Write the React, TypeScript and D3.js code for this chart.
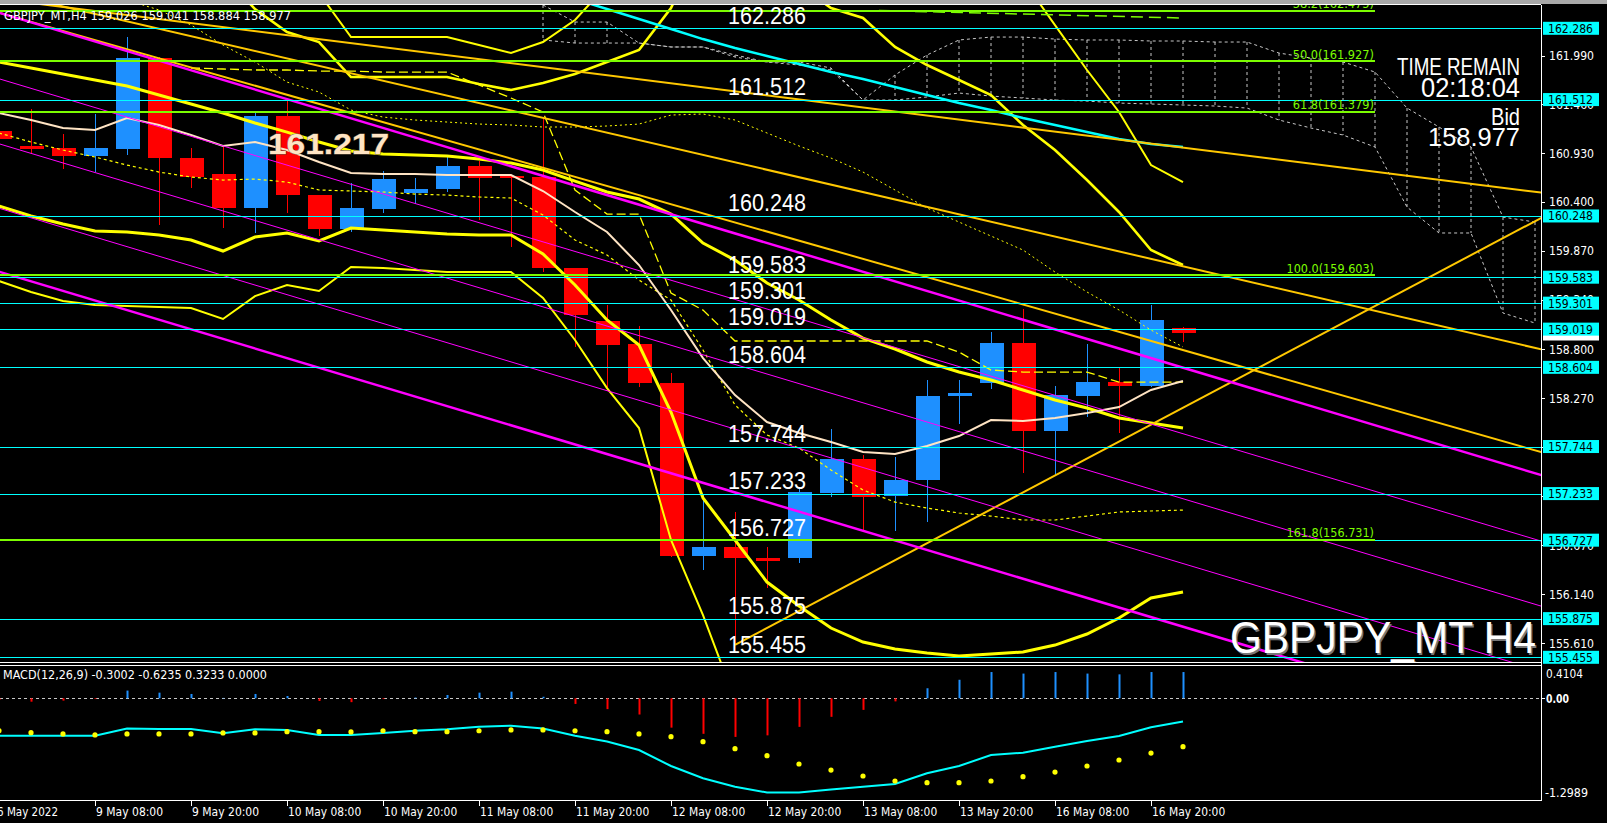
import React, { useEffect } from "react";
import * as d3 from "d3";

// ---------------- candles: H4 bars, index 0 = 6 May 20:00 ... 37 = 17 May 00:00 ----------------
const opens = [161.171,161.011,160.989,160.902,160.978,161.960,160.877,160.707,160.338,161.334,160.476,160.106,160.324,160.497,160.541,160.794,160.681,160.671,159.678,159.104,158.860,158.437,156.555,156.658,156.537,156.530,157.243,157.609,157.207,157.380,158.296,158.437,158.872,157.916,158.296,158.445,158.405,159.026];
const highs = [161.200,161.410,161.138,161.352,162.188,161.975,160.986,161.000,161.363,161.507,160.480,160.603,160.736,160.664,160.885,160.848,160.690,161.312,159.680,159.279,159.051,158.544,157.222,157.032,156.653,157.305,157.934,157.652,157.634,158.467,158.467,158.985,159.238,158.401,158.858,158.593,159.281,159.041];
const lows = [161.050,160.929,160.761,160.729,160.910,160.150,160.555,160.120,160.066,160.284,160.034,160.077,160.277,160.375,160.511,160.204,159.915,159.640,158.829,158.346,158.392,156.540,156.403,155.589,156.204,156.482,157.199,156.837,156.830,156.928,157.989,158.369,157.460,157.427,158.068,157.894,158.387,158.884];
const closes = [161.081,160.978,160.902,160.986,161.960,160.881,160.674,160.338,161.334,160.476,160.106,160.334,160.649,160.541,160.794,160.664,160.658,159.678,159.176,158.852,158.437,156.555,156.658,156.537,156.499,157.250,157.609,157.196,157.380,158.293,158.322,158.872,157.916,158.304,158.445,158.405,159.118,158.977];

// ---------------- indicators (price units, per bar) ----------------
const maBisque = [161.366,161.290,161.203,161.181,161.312,161.236,161.127,161.008,161.051,160.964,160.834,160.714,160.703,160.703,160.693,160.693,160.693,160.519,160.291,160.074,159.715,159.227,158.705,158.303,158.010,157.891,157.793,157.684,157.663,157.749,157.858,158.032,158.021,158.054,158.108,158.173,158.358,158.455];
const bandMid = [161.920,161.855,161.789,161.724,161.659,161.561,161.464,161.366,161.257,161.159,161.051,160.953,160.921,160.910,160.899,160.866,160.823,160.747,160.627,160.508,160.432,160.269,159.954,159.769,159.520,159.335,159.118,158.922,158.803,158.662,158.553,158.466,158.358,158.249,158.162,158.054,157.999,157.945];
const bandUpperInner = [163.484,163.462,163.418,163.364,163.245,163.082,162.941,162.865,162.495,162.245,162.137,161.757,161.757,161.757,161.757,161.681,161.616,161.692,161.789,161.920,162.050,162.506,163.245,163.462,163.245,162.756,162.506,162.398,162.083,161.887,161.724,161.561,161.236,160.964,160.638,160.291,159.878,159.715];
const bandLowerInner = [160.356,160.247,160.160,160.084,160.073,160.041,159.987,159.867,160.019,160.063,159.976,160.117,160.095,160.073,160.052,160.041,160.041,159.835,159.498,159.118,158.846,158.119,157.185,156.729,156.272,156.012,155.773,155.621,155.545,155.501,155.469,155.491,155.512,155.588,155.708,155.882,156.099,156.164];
const bandUpperOuter = [164.298,164.287,164.255,164.168,164.048,163.864,163.679,163.603,163.136,162.821,162.669,162.191,162.191,162.191,162.191,162.104,162.017,162.137,162.376,162.756,163.027,163.679,164.005,164.222,164.222,164.113,164.005,163.788,163.679,163.570,163.462,163.245,162.810,162.321,161.833,161.377,160.801,160.616];
const bandLowerOuter = [159.541,159.422,159.324,159.281,159.270,159.259,159.248,159.129,159.378,159.498,159.433,159.693,159.683,159.661,159.639,159.639,159.639,159.357,158.901,158.379,157.945,156.729,155.914,154.991,154.557,154.339,154.122,154.014,153.905,153.796,153.688,153.688,153.688,153.796,154.014,154.339,154.774,154.991];
const envUpper = [163.027,162.919,162.810,162.702,162.593,162.485,162.322,162.104,161.920,161.702,161.594,161.398,161.322,161.290,161.268,161.246,161.236,161.214,161.214,161.225,161.246,161.344,161.355,161.290,161.149,161.008,160.877,160.725,160.530,160.334,160.182,160.030,159.878,159.639,159.422,159.227,159.009,158.825];
const envLower = [161.149,161.051,160.964,160.888,160.801,160.725,160.671,160.638,160.649,160.616,160.530,160.519,160.508,160.486,160.475,160.454,160.443,160.258,159.987,159.824,159.552,159.335,158.792,158.195,157.869,157.728,157.489,157.272,157.141,157.076,157.022,156.989,156.946,156.946,156.989,157.033,157.044,157.054];
const kijunStart = 6;
const kijun = [161.855,161.844,161.833,161.833,161.822,161.822,161.811,161.811,161.811,161.670,161.529,161.377,160.530,160.269,160.269,159.411,159.226,158.890,158.890,158.890,158.890,158.890,158.890,158.890,158.770,158.575,158.553,158.553,158.553,158.444,158.444,158.444];
const maCyanStart = 14;
const maCyan = [163.027,162.919,162.821,162.712,162.604,162.495,162.387,162.278,162.169,162.072,161.985,161.898,161.811,161.735,161.648,161.561,161.474,161.398,161.312,161.236,161.160,161.084,161.029,160.997];
const cloudStart = 17;
const spanA = [162.539,162.354,162.354,162.126,162.083,162.083,161.996,161.920,161.920,161.855,161.507,161.779,161.996,162.159,162.191,162.191,162.169,162.159,162.159,162.148,162.148,162.137,162.137,162.017,161.963,161.920,161.811,161.420,161.214,160.997,160.236,160.182];
const spanB = [162.159,162.126,162.126,162.126,162.083,162.083,161.974,161.920,161.887,161.833,161.507,161.507,161.540,161.583,161.550,161.529,161.507,161.496,161.474,161.464,161.453,161.442,161.420,161.290,161.203,161.127,160.997,160.345,160.063,160.063,159.194,159.085];

// ---------------- MACD(12,26,9) ----------------
const macdMain = [-0.484,-0.484,-0.484,-0.484,-0.390,-0.398,-0.398,-0.453,-0.402,-0.410,-0.475,-0.475,-0.450,-0.420,-0.402,-0.367,-0.355,-0.390,-0.484,-0.560,-0.670,-0.877,-1.036,-1.145,-1.220,-1.220,-1.180,-1.145,-1.110,-0.970,-0.877,-0.734,-0.705,-0.627,-0.553,-0.488,-0.376,-0.300];
const macdSignal = [-0.420,-0.445,-0.462,-0.475,-0.462,-0.462,-0.462,-0.449,-0.449,-0.432,-0.432,-0.436,-0.420,-0.432,-0.432,-0.420,-0.410,-0.410,-0.420,-0.432,-0.462,-0.497,-0.562,-0.652,-0.743,-0.851,-0.929,-1.006,-1.071,-1.093,-1.093,-1.071,-1.015,-0.955,-0.877,-0.799,-0.709,-0.627];
const macdHist = [-0.020,-0.044,-0.030,-0.010,0.100,0.073,0.056,0.005,0.056,0.030,-0.035,-0.050,-0.010,0.010,0.043,0.073,0.086,0.020,-0.073,-0.140,-0.210,-0.380,-0.460,-0.500,-0.480,-0.370,-0.240,-0.150,-0.040,0.130,0.240,0.340,0.320,0.340,0.320,0.310,0.340,0.340];

// ---------------- levels, fibs, trend lines ----------------
const levels = [162.286,161.512,160.248,159.583,159.301,159.019,158.604,157.744,157.233,156.727,155.875,155.455];
const fibRatios = ["38.2","50.0","61.8","100.0","161.8"];
const fibPrices = [162.475,161.927,161.379,159.603,156.731];
const fibEndBar = 43;
const fibDashFrom = [27.5, 162.479];
const fibDashTo = [37, 162.398];
const goldFrom = [[0,162.605],[0,162.684],[0,162.455],[23,155.589]];
const goldTo = [[48,160.510],[48,158.815],[48,157.703],[48,160.191]];
const magentaFrom = [[0,162.455],[0,161.738],[0,161.032],[0,160.332],[0,159.642]];
const magentaTo = [[48,157.454],[48,156.737],[48,156.031],[48,155.326],[48,154.641]];
const magentaThick = [true,false,false,false,true];

const priceTicks = [161.990,161.460,160.930,160.400,159.870,159.340,158.800,158.270,157.740,157.210,156.670,156.140,155.610];
const macdTickValues = ["0.4104","0.00","-1.2989"];
const timeBars = [0,3,6,9,12,15,18,21,24,27,30,33,36];
const timeLabels = ["6 May 2022","9 May 08:00","9 May 20:00","10 May 08:00","10 May 20:00","11 May 08:00","11 May 20:00","12 May 08:00","12 May 20:00","13 May 08:00","13 May 20:00","16 May 08:00","16 May 20:00"];

const symbolHeader = "GBPJPY_MT,H4  159.026 159.041 158.884 158.977";
const macdHeader = "MACD(12,26,9) -0.3002 -0.6235 0.3233 0.0000";
const bidPrice = 158.977;
const hiLabel = "161.217";
const timeRemain = "02:18:04";

const W = 1607;
const H = 823;
const PR = 1541; // right edge of plot
const FONT = "'Liberation Sans', Arial, sans-serif";
const SMALL = "'DejaVu Sans', Tahoma, sans-serif";

export default function App() {
  useEffect(() => {
    document.body.style.margin = "0";
    document.body.style.background = "#000";
  }, []);

  const x = d3.scaleLinear().domain([0, 1]).range([-1, 31]);
  const y = d3.scaleLinear().domain([162.286, 155.455]).range([28.3, 657.3]);
  const ym = d3.scaleLinear().domain([0.4104, -1.2989]).range([666.6, 798.6]);

  const mk = (vals: number[], start = 0, sy = y) =>
    d3.line<number>().x((_, k) => x(k + start)).y((v) => sy(v))(vals) || "";

  const ray = (a: number[], b: number[], endBar: number) => {
    const slope = (b[1] - a[1]) / (b[0] - a[0]);
    const p2 = a[1] + slope * (endBar - a[0]);
    return `M${x(a[0])},${y(a[1])}L${x(endBar)},${y(p2)}`;
  };

  const rightBar = x.invert(PR + 2);

  return (
    <svg width={W} height={H} style={{ position: "fixed", left: 0, top: 0, display: "block" }}>
      <defs>
        <clipPath id="mainClip"><rect x={0} y={5} width={PR} height={657} /></clipPath>
        <clipPath id="subClip"><rect x={0} y={665} width={PR} height={135} /></clipPath>
      </defs>
      <rect x={0} y={0} width={W} height={H} fill="#000" />
      <rect x={0} y={0} width={W} height={4} fill="#a8a8a8" />

      <g clipPath="url(#mainClip)">
        {/* ichimoku-like cloud, dashed grey */}
        <g stroke="#c8c8c8" strokeWidth={1} strokeDasharray="3,3" fill="none">
          <path d={mk(spanA, cloudStart)} />
          <path d={mk(spanB, cloudStart)} />
          {spanA.map((a, k) => (
            <line key={k} x1={x(k + cloudStart)} x2={x(k + cloudStart)} y1={y(a)} y2={y(spanB[k])} />
          ))}
        </g>

        {/* candles */}
        {opens.map((o, i) => {
          const c = closes[i];
          const up = c >= o;
          const col = up ? "#1E90FF" : "#FF0000";
          const cx = x(i);
          const top = y(Math.max(o, c));
          const bot = y(Math.min(o, c));
          return (
            <g key={i} shapeRendering="crispEdges">
              <line x1={cx + 0.5} x2={cx + 0.5} y1={y(highs[i])} y2={y(lows[i])} stroke={col} strokeWidth={1} />
              <rect x={cx - 11.5} y={top} width={24} height={Math.max(1.5, bot - top)} fill={col} />
            </g>
          );
        })}

        {/* envelopes dotted */}
        <path d={mk(envUpper)} fill="none" stroke="#FFFF00" strokeWidth={1} strokeDasharray="2,3" />
        <path d={mk(envLower)} fill="none" stroke="#FFFF00" strokeWidth={1.2} strokeDasharray="3,3" />
        {/* kijun dashed */}
        <path d={mk(kijun, kijunStart)} fill="none" stroke="#FFFF00" strokeWidth={1.3} strokeDasharray="9,4" />

        {/* bands */}
        <path d={mk(bandUpperOuter)} fill="none" stroke="#FFFF00" strokeWidth={2} />
        <path d={mk(bandLowerOuter)} fill="none" stroke="#FFFF00" strokeWidth={2} />
        <path d={mk(bandUpperInner)} fill="none" stroke="#FFFF00" strokeWidth={2.6} />
        <path d={mk(bandLowerInner)} fill="none" stroke="#FFFF00" strokeWidth={3} />
        <path d={mk(bandMid)} fill="none" stroke="#FFFF00" strokeWidth={3} />

        {/* moving averages */}
        <path d={mk(maCyan, maCyanStart)} fill="none" stroke="#00FFFF" strokeWidth={2.5} />
        <path d={mk(maBisque)} fill="none" stroke="#FFE4C4" strokeWidth={2} />

        {/* trend lines */}
        {goldFrom.map((a, k) => (
          <path key={"g" + k} d={ray(a, goldTo[k], rightBar)} stroke="#FFC800" strokeWidth={2} fill="none" />
        ))}
        {magentaFrom.map((a, k) => (
          <path key={"m" + k} d={ray(a, magentaTo[k], rightBar)} stroke="#FF00FF" strokeWidth={magentaThick[k] ? 2.5 : 1} fill="none" />
        ))}

        {/* horizontal levels */}
        {levels.map((lv, k) => (
          <line key={"l" + k} x1={0} x2={PR} y1={Math.round(y(lv)) + 0.5} y2={Math.round(y(lv)) + 0.5} stroke="#00FFFF" strokeWidth={1} shapeRendering="crispEdges" />
        ))}

        {/* fibonacci */}
        {fibPrices.map((fp, k) => (
          <g key={"f" + k}>
            <line x1={0} x2={x(fibEndBar)} y1={y(fp)} y2={y(fp)} stroke="#7CFC00" strokeWidth={2} shapeRendering="crispEdges" />
            <text x={x(fibEndBar) - 1} y={y(fp) - 2.5} fill="#7CFC00" fontSize={12.5} fontFamily={SMALL} textAnchor="end"
              textLength={(fibRatios[k].length + 9) * 6.25} lengthAdjust="spacingAndGlyphs">
              {`${fibRatios[k]}(${fp.toFixed(3)})`}
            </text>
          </g>
        ))}
        <line x1={x(fibDashFrom[0])} y1={y(fibDashFrom[1])} x2={x(fibDashTo[0])} y2={y(fibDashTo[1])} stroke="#7CFC00" strokeWidth={1.5} strokeDasharray="12,6" />

        {/* level captions */}
        {levels.map((lv, k) => (
          <text key={"lt" + k} x={728} y={y(lv) - 4.5} fill="#ffffff" fontSize={23} fontFamily={FONT}
            textLength={78} lengthAdjust="spacingAndGlyphs">{lv.toFixed(3)}</text>
        ))}

        <text x={268} y={154} fill="#FFE4C4" stroke="#6b5a46" strokeWidth={0.8} paintOrder="stroke" fontSize={29} fontWeight="bold" fontFamily={FONT}
          textLength={121} lengthAdjust="spacingAndGlyphs">{hiLabel}</text>

        <g fill="#ffffff" fontFamily={FONT} textAnchor="end">
          <text x={1520} y={75} fontSize={24} textLength={123} lengthAdjust="spacingAndGlyphs">TIME REMAIN</text>
          <text x={1520} y={97} fontSize={27} textLength={99} lengthAdjust="spacingAndGlyphs">{timeRemain}</text>
          <text x={1520} y={125} fontSize={24} textLength={29} lengthAdjust="spacingAndGlyphs">Bid</text>
          <text x={1520} y={146} fontSize={26} textLength={92} lengthAdjust="spacingAndGlyphs">{bidPrice.toFixed(3)}</text>
        </g>

        <text x={1231.5} y={654.5} fill="#777" fontSize={45} fontFamily={FONT} textLength={306} lengthAdjust="spacingAndGlyphs">GBPJPY_MT H4</text>
        <text x={1230} y={653} fill="#ffffff" fontSize={45} fontFamily={FONT} textLength={306} lengthAdjust="spacingAndGlyphs">GBPJPY_MT H4</text>
      </g>

      {/* header */}
      <text x={4} y={20} fill="#ffffff" fontSize={12} fontFamily={SMALL} textLength={287} lengthAdjust="spacingAndGlyphs">{symbolHeader}</text>

      {/* MACD panel */}
      <g clipPath="url(#subClip)">
        <line x1={0} x2={PR} y1={Math.round(ym(0)) + 0.5} y2={Math.round(ym(0)) + 0.5} stroke="#c8c8c8" strokeWidth={1} strokeDasharray="3,3" />
        {macdHist.map((v, i) => (
          <line key={i} x1={x(i) + 0.5} x2={x(i) + 0.5} y1={ym(0)} y2={ym(v)} stroke={v >= 0 ? "#1E90FF" : "#FF0000"} strokeWidth={2} />
        ))}
        <path d={mk(macdMain, 0, ym)} fill="none" stroke="#00FFFF" strokeWidth={2} />
        {macdSignal.map((v, i) => (
          <circle key={"s" + i} cx={x(i)} cy={ym(v)} r={2.6} fill="#FFFF00" />
        ))}
        <text x={3} y={679} fill="#ffffff" fontSize={12} fontFamily={SMALL} textLength={264} lengthAdjust="spacingAndGlyphs">{macdHeader}</text>
      </g>

      {/* frames */}
      <g stroke="#ffffff" strokeWidth={1} shapeRendering="crispEdges">
        <line x1={0} x2={PR} y1={4.5} y2={4.5} />
        <line x1={0} x2={PR} y1={662.5} y2={662.5} />
        <line x1={0} x2={PR} y1={665.5} y2={665.5} />
        <line x1={0} x2={PR} y1={800.5} y2={800.5} />
        <line x1={PR + 0.5} x2={PR + 0.5} y1={4.5} y2={800.5} />
      </g>

      {/* price axis */}
      {priceTicks.map((t, k) => (
        <g key={"pt" + k}>
          <line x1={PR} x2={PR + 4} y1={Math.round(y(t)) + 0.5} y2={Math.round(y(t)) + 0.5} stroke="#fff" shapeRendering="crispEdges" />
          <text x={1549} y={y(t) + 4.5} fill="#ffffff" fontSize={12} fontFamily={SMALL} textLength={45} lengthAdjust="spacingAndGlyphs">{t.toFixed(3)}</text>
        </g>
      ))}
      <rect x={1543} y={y(bidPrice) - 6} width={56} height={13.5} fill="#ffffff" />
      {levels.map((lv, k) => (
        <g key={"lb" + k}>
          <rect x={1543} y={y(lv) - 6.5} width={56} height={13} fill="#00FFFF" />
          <text x={1548} y={y(lv) + 4.5} fill="#000" fontSize={12} fontFamily={SMALL} textLength={45} lengthAdjust="spacingAndGlyphs">{lv.toFixed(3)}</text>
        </g>
      ))}

      {/* MACD axis */}
      <text x={1546} y={678} fill="#fff" fontSize={12} fontFamily={SMALL} textLength={37} lengthAdjust="spacingAndGlyphs">{macdTickValues[0]}</text>
      <line x1={PR} x2={PR + 4} y1={698.5} y2={698.5} stroke="#fff" />
      <text x={1546} y={702.5} fill="#fff" fontSize={12} fontFamily={SMALL} fontWeight="bold" textLength={23} lengthAdjust="spacingAndGlyphs">{macdTickValues[1]}</text>
      <text x={1545} y={797} fill="#fff" fontSize={12} fontFamily={SMALL} textLength={43} lengthAdjust="spacingAndGlyphs">{macdTickValues[2]}</text>

      {/* time axis */}
      {timeBars.map((b, k) => (
        <g key={"tb" + k}>
          <line x1={x(b) + 0.5} x2={x(b) + 0.5} y1={800} y2={806} stroke="#fff" shapeRendering="crispEdges" />
          <text x={k === 0 ? -3 : x(b) + 1} y={816} fill="#fff" fontSize={12} fontFamily={SMALL}
            textLength={timeLabels[k].length * 6.1} lengthAdjust="spacingAndGlyphs">{timeLabels[k]}</text>
        </g>
      ))}
    </svg>
  );
}
